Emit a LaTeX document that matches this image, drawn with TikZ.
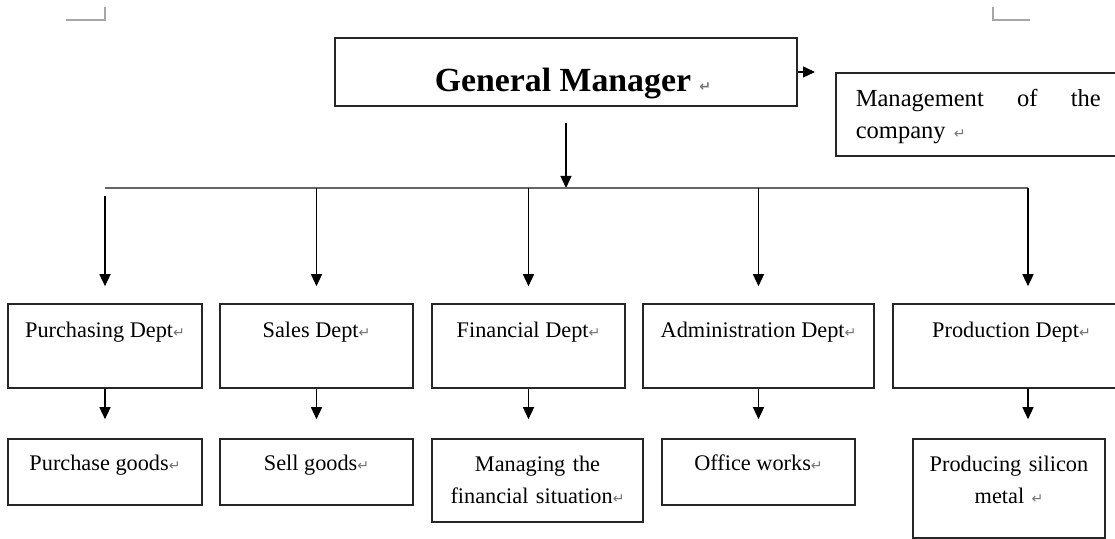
\documentclass[tikz,border=0pt]{standalone}
\usepackage{fontspec}
\setmainfont{Liberation Serif}
\newfontfamily\markfont{DejaVu Sans}
\usetikzlibrary{arrows.meta}
\newcommand{\pmark}{{\markfont\fontsize{7}{7}\selectfont\color{black!55}↵}}

\begin{document}
\begin{tikzpicture}[x=0.5pt, y=-0.5pt,
  box/.style={draw=black!85, line width=0.8pt, inner sep=0pt, font=\fontsize{11.15}{16}\selectfont},
  dept/.style={box, minimum width=#1, text height=17pt, text depth=25pt},
  job/.style={box, minimum width=#1, text height=16pt, text depth=17pt},
  arr/.style={-{Triangle[length=6pt,width=5.5pt]}, line width=0.7pt},
  bus/.style={draw=black!60, line width=1pt},
  cropmark/.style={draw=black!35, line width=0.6pt}]
\useasboundingbox (0,0) rectangle (1115,539);
\draw[cropmark] (66,20) -- (105,20) -- (105,7);
\draw[cropmark] (993,7) -- (993,20) -- (1030,20);
\node (gm) [box, font=\bfseries\fontsize{16.9}{20}\selectfont, minimum width=231pt, text height=27pt, text depth=7pt] at (566,72) {\hspace*{7pt}General Manager \pmark};
\node (mgmt) [box, anchor=north west, font=\fontsize{12.26}{16}\selectfont, text width=122.5pt, inner xsep=10pt, align=left, text height=17pt, text depth=24.5pt] at (835,72) {Management\hfill of\hfill the\\company \pmark};
\node (pur) [dept=97pt] at (105,346) {Purchasing Dept\pmark};
\node (sal) [dept=96.5pt] at (316.5,346) {Sales Dept\pmark};
\node (fin) [dept=96.5pt] at (528.5,346) {Financial Dept\pmark};
\node (adm) [dept=115.5pt] at (758.5,346) {Administration Dept\pmark};
\node (prod) [dept=118.5pt] at (1011.5,346) {Production Dept\pmark};
\node (purs) [job=97pt] at (105,472) {Purchase goods\pmark};
\node (sals) [job=96.5pt] at (316.5,472) {Sell goods\pmark};
\node (fins) [box, text width=105.5pt, align=center, text height=16.5pt, text depth=25pt] at (537.5,480.5) {Managing the\\financial situation\pmark};
\node (adms) [job=96.5pt] at (758.5,472) {Office works\pmark};
\node (prods) [box, text width=96pt, align=center, text height=16.5pt, text depth=33pt] at (1009,488.5) {Producing silicon\\metal \pmark};
\coordinate (b0) at (566,188);
\coordinate (b1) at (105,188);
\coordinate (b2) at (316.5,188);
\coordinate (b3) at (528.5,188);
\coordinate (b4) at (758.5,188);
\coordinate (b5) at (1028,188);
\draw[arr, shorten >=10pt] (gm.east) -- (mgmt.north west);
\draw[arr, shorten <=8pt] (gm) -- (b0);
\draw[bus] (b1) -- (b5);
\draw[arr, shorten <=4pt, shorten >=8.5pt] (b1) -- (b1 |- pur.north);
\draw[arr, shorten >=8.5pt] (b2) -- (b2 |- sal.north);
\draw[arr, shorten >=8.5pt] (b3) -- (b3 |- fin.north);
\draw[arr, shorten >=8.5pt] (b4) -- (b4 |- adm.north);
\draw[arr, shorten >=8.5pt] (b5) -- (b5 |- prod.north);
\draw[arr, shorten >=9.5pt] (b1 |- pur.south) -- (b1 |- purs.north);
\draw[arr, shorten >=9.5pt] (b2 |- sal.south) -- (b2 |- sals.north);
\draw[arr, shorten >=9.5pt] (b3 |- fin.south) -- (b3 |- fins.north);
\draw[arr, shorten >=9.5pt] (b4 |- adm.south) -- (b4 |- adms.north);
\draw[arr, shorten >=9.5pt] (b5 |- prod.south) -- (b5 |- prods.north);
\end{tikzpicture}
\end{document}
